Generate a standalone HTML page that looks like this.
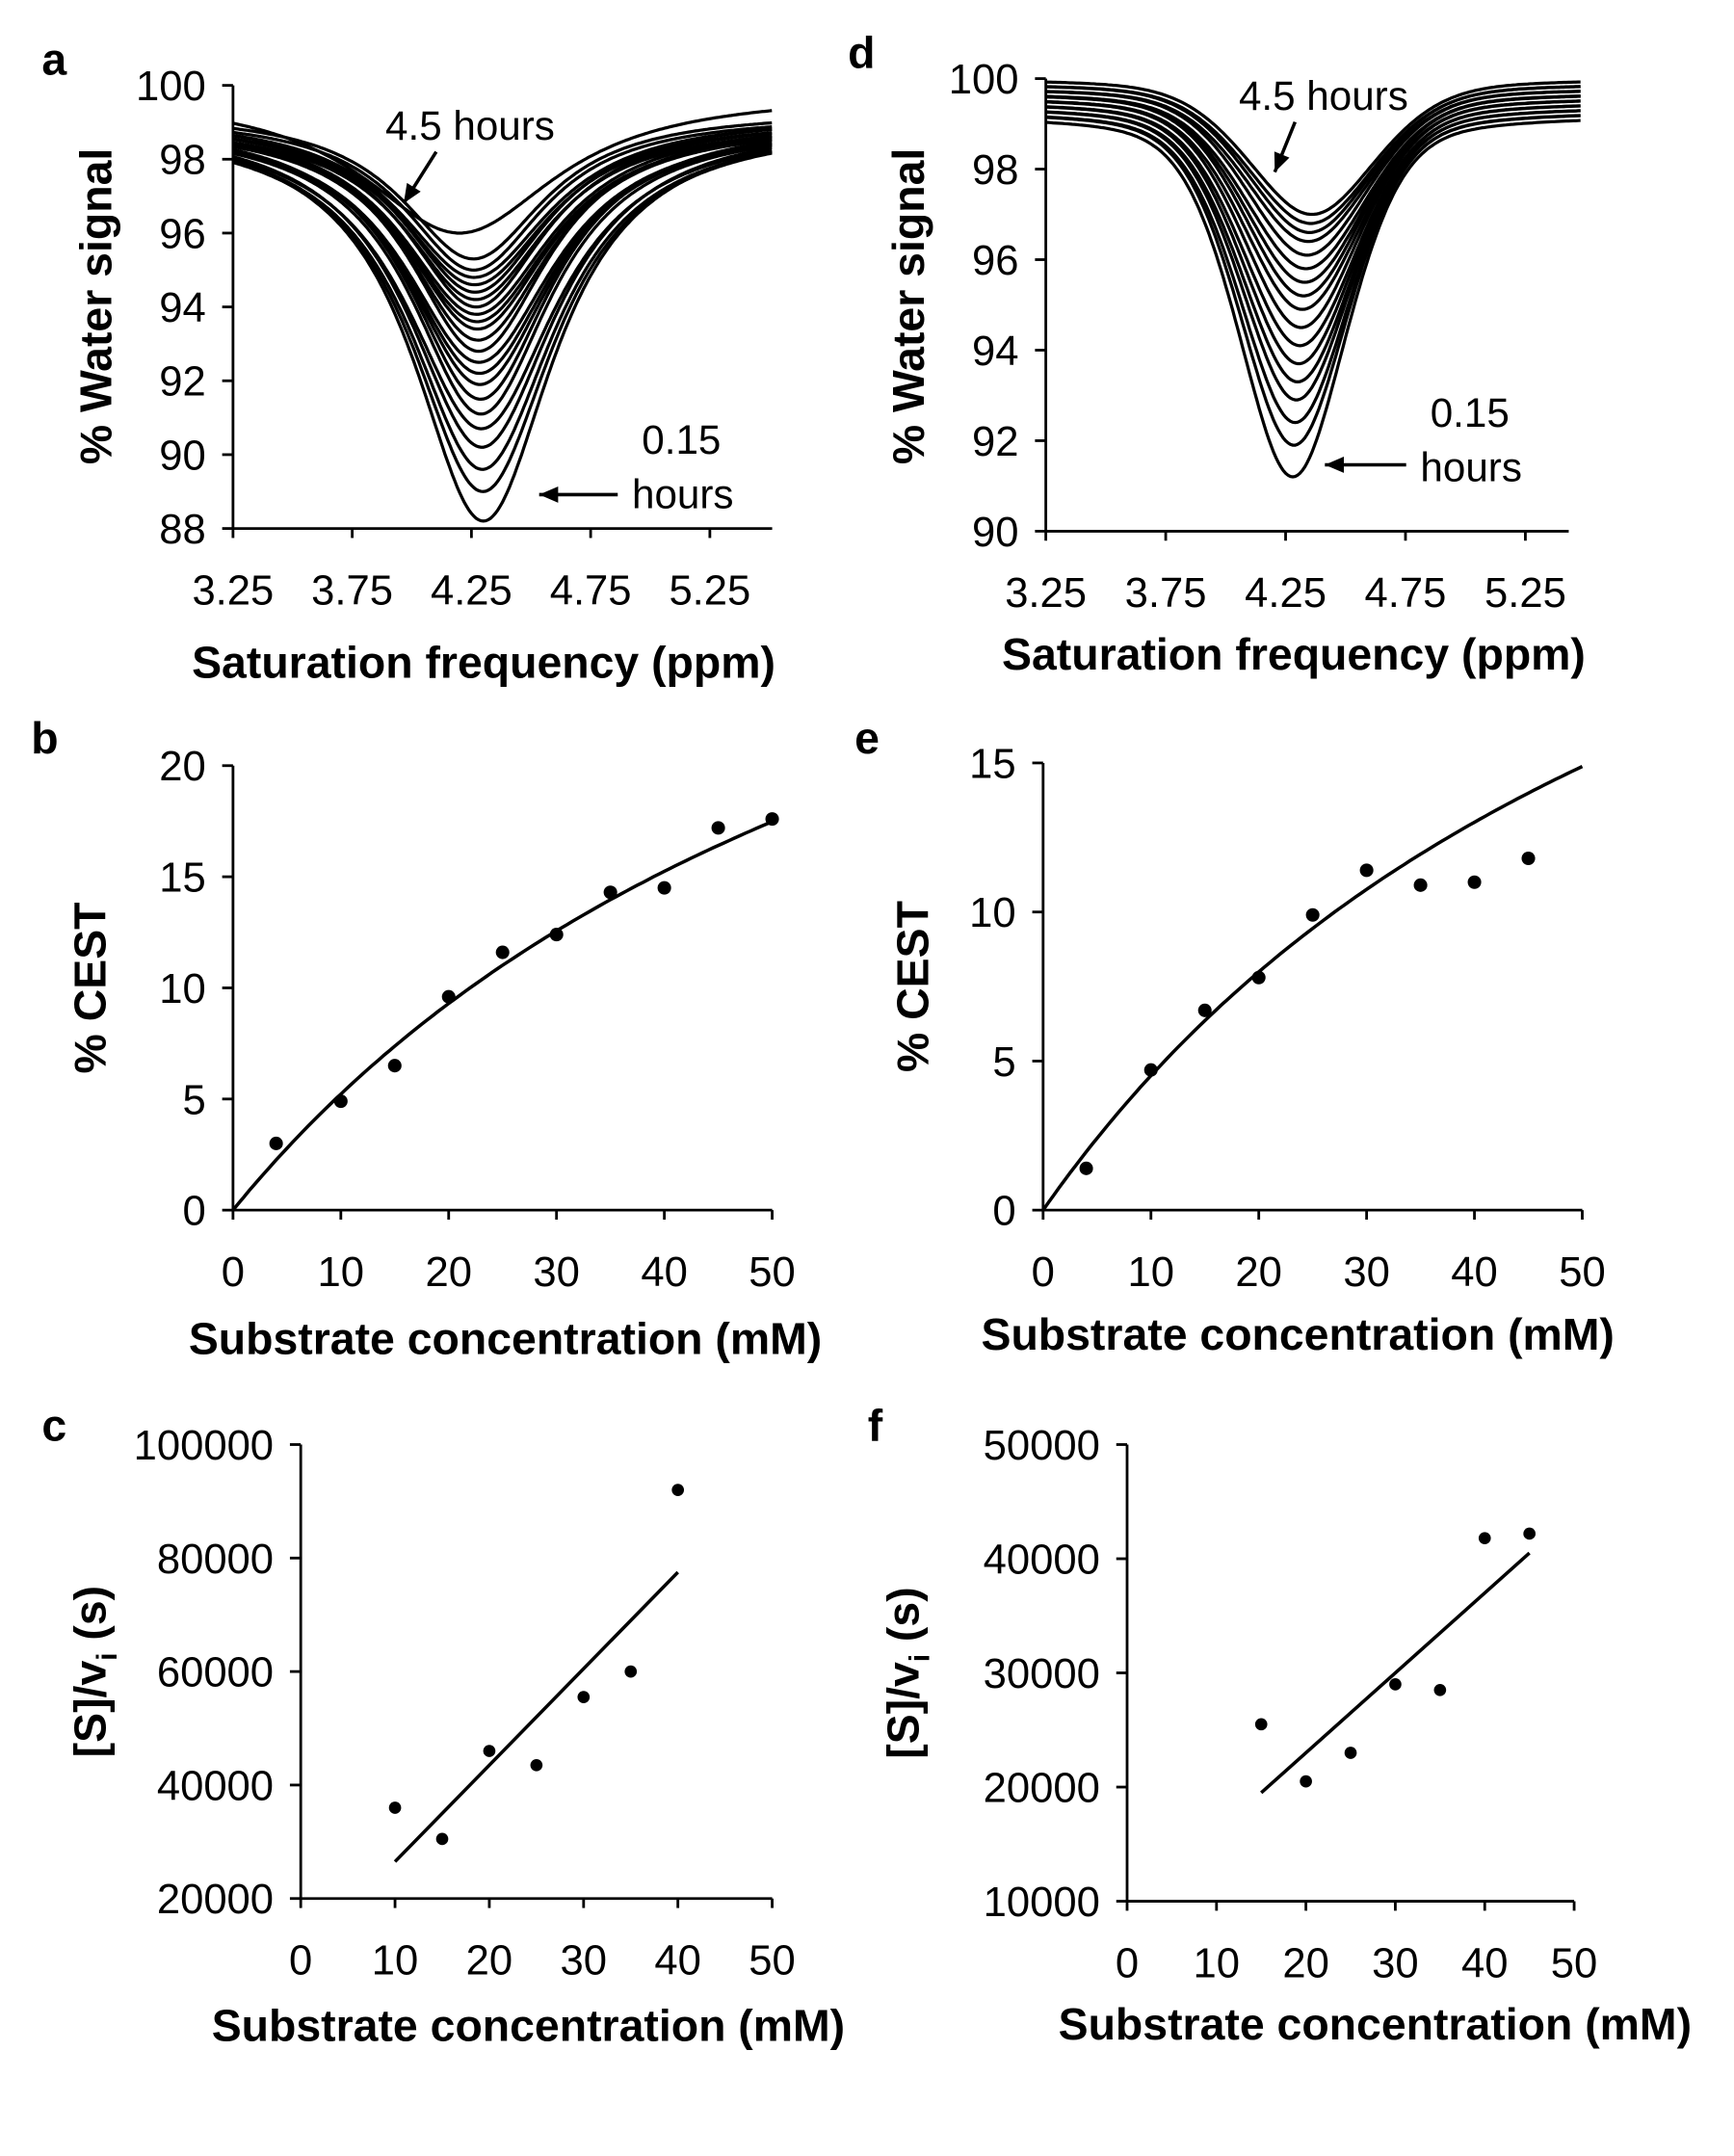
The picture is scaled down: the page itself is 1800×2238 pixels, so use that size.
<!DOCTYPE html>
<html><head><meta charset="utf-8">
<style>
html,body{margin:0;padding:0;background:#fff;}
svg{display:block;font-family:"Liberation Sans",Arial,sans-serif;}
.t{font-size:31px;fill:#000;}
.b{font-size:33px;font-weight:bold;fill:#000;}
.an{font-size:30px;fill:#000;}
</style></head>
<body>
<svg id="fig" width="1800" height="2238" viewBox="0 0 1280 1591" preserveAspectRatio="none" xmlns="http://www.w3.org/2000/svg">
<g id="root"></g>
</svg>
<script>
// ---------- data ----------
const aMinValues = [88.2,89.0,89.6,90.2,90.7,91.1,91.5,91.9,92.2,92.5,92.8,93.1,93.4,93.6,93.8,94.0,94.2,94.4,94.6,94.8,95.0,95.3,96.0];
const aBaseValues = [99.1,99.0,99.0,99.1,99.0,99.0,99.1,99.0,99.0,99.0,99.1,99.0,99.0,99.0,99.1,99.1,99.0,99.2,99.1,99.2,99.2,99.3,99.8];
const dMinValues = [91.2,91.9,92.4,92.9,93.3,93.7,94.1,94.5,94.9,95.2,95.5,95.8,96.1,96.4,96.6,96.8,97.0];
const dBaseValues = [99.2,99.3,99.3,99.4,99.4,99.5,99.5,99.6,99.6,99.7,99.7,99.7,99.8,99.8,99.9,99.9,100.0];
const freqTicks = [3.25,3.75,4.25,4.75,5.25];
const bConc = [4,10,15,20,25,30,35,40,45,50];
const bCest = [3.0,4.9,6.5,9.6,11.6,12.4,14.3,14.5,17.2,17.6];
const bFit = [42.3,71];
const eConc = [4,10,15,20,25,30,35,40,45];
const eCest = [1.4,4.7,6.7,7.8,9.9,11.4,10.9,11.0,11.8];
const eFit = [35.0,67.6];
const cConc = [10,15,20,25,30,35,40];
const cRatio = [36000,30500,46000,43500,55500,60000,92000];
const cLine = [[10,26500],[40,77500]];
const fConc = [15,20,25,30,35,40,45];
const fRatio = [25500,20500,23000,29000,28500,41800,42200];
const fLine = [[15,19500],[45,40500]];

const NS="http://www.w3.org/2000/svg";
const root=document.getElementById('root');
function mk(tag,attrs,parent,text){const e=document.createElementNS(NS,tag);for(const k in attrs)e.setAttribute(k,attrs[k]);if(text!==undefined)e.textContent=text;(parent||root).appendChild(e);return e;}
function scale(d0,d1,r0,r1){return v=>r0+(v-d0)/(d1-d0)*(r1-r0);}

function axes(g,x0,x1,yTop,yBot,xs,ys,xt,yt,xfmt,yfmt){
  const ya=mk('line',{x1:x0,y1:yTop,x2:x0,y2:yBot,stroke:'#000','stroke-width':2},g);
  
  const xa=mk('line',{x1:x0,y1:yBot,x2:x1,y2:yBot,stroke:'#000','stroke-width':2},g);
  
  yt.forEach(v=>{const y=ys(v);mk('line',{x1:x0-8,y1:y,x2:x0,y2:y,stroke:'#000','stroke-width':2},g);
    const t=mk('text',{x:x0-20,y:y+11,'text-anchor':'end',class:'t'},g,yfmt(v));
    });
  xt.forEach(v=>{const x=xs(v);mk('line',{x1:x,y1:yBot,x2:x,y2:yBot+7,stroke:'#000','stroke-width':2},g);
    const t=mk('text',{x:x,y:yBot+56,'text-anchor':'middle',class:'t'},g,xfmt(v));
    });
}
function label(g,txt,x,y,rot,name){const t=mk('text',{x:x,y:y,'text-anchor':'middle',class:'b',transform:rot?`rotate(-90 ${x} ${y})`:''},g,txt);
  return t;}
function arrow(g,x1,y1,x2,y2){mk('line',{x1:x1,y1:y1,x2:x2,y2:y2,stroke:'#000','stroke-width':2.5},g);
  const a=Math.atan2(y2-y1,x2-x1),L=14,W=6;
  const p=[[x2,y2],[x2-L*Math.cos(a)+W*Math.sin(a),y2-L*Math.sin(a)-W*Math.cos(a)],[x2-L*Math.cos(a)-W*Math.sin(a),y2-L*Math.sin(a)+W*Math.cos(a)]];
  mk('polygon',{points:p.map(q=>q.join(',')).join(' '),fill:'#000'},g);}

// ---------- Panel a ----------
(function(){
 const g=mk('g',{});
 const xs=scale(3.25,5.25,172,524), ys=scale(88,100,390,63);
 aMinValues.forEach((m,i)=>{
   const top=i===aMinValues.length-1; const c=top?4.2:4.3-0.002*i, w=top?0.5:0.36+0.006*(i%5), base=aBaseValues[i];
   let d='';for(let x=3.25;x<=5.51;x+=0.01){const L=1/(1+Math.pow((x-c)/w,2));const y=base-(base-m)*L;d+=(d?'L':'M')+xs(x).toFixed(1)+','+ys(y).toFixed(1);}
   const p=mk('path',{d:d,fill:'none',stroke:'#000','stroke-width':2.3},g);
   
 });
 axes(g,172,570,63,390,xs,ys,freqTicks,[88,90,92,94,96,98,100],v=>v.toFixed(2),v=>v);
 label(g,'% Water signal',82,226,true,'y-axis-title');
 label(g,'Saturation frequency (ppm)',357,500,false,'x-axis-title');
 label(g,'a',40,55,false,'panel-label');
 mk('text',{x:347,y:103,'text-anchor':'middle',class:'an'},g,'4.5 hours');
 arrow(g,322,112,298,150);
 mk('text',{x:503,y:335,'text-anchor':'middle',class:'an'},g,'0.15');
 mk('text',{x:504,y:375,'text-anchor':'middle',class:'an'},g,'hours');
 arrow(g,456,365,398,365);
})();

// ---------- Panel d ----------
(function(){
 const g=mk('g',{});
 const xs=scale(3.25,5.25,772,1126), ys=scale(90,100,392,58);
 dMinValues.forEach((m,i)=>{
   const c=4.28+0.005*i, w=0.26+0.003*i, base=dBaseValues[i];
   let d='';for(let x=3.25;x<=5.48;x+=0.01){const L=1/(1+Math.pow((x-c)/w,2));const G=Math.exp(-Math.pow((x-c)/(w*1.25),2));const y=base-(base-m)*(0.35*L+0.65*G);d+=(d?'L':'M')+xs(x).toFixed(1)+','+ys(y).toFixed(1);}
   const p=mk('path',{d:d,fill:'none',stroke:'#000','stroke-width':2.3},g);
   
 });
 axes(g,772,1158,58,392,xs,ys,freqTicks,[90,92,94,96,98,100],v=>v.toFixed(2),v=>v);
 label(g,'% Water signal',682,226,true,'y-axis-title');
 label(g,'Saturation frequency (ppm)',955,494,false,'x-axis-title');
 label(g,'d',636,50,false,'panel-label');
 mk('text',{x:977,y:81,'text-anchor':'middle',class:'an'},g,'4.5 hours');
 arrow(g,956,90,941,127);
 mk('text',{x:1085,y:315,'text-anchor':'middle',class:'an'},g,'0.15');
 mk('text',{x:1086,y:355,'text-anchor':'middle',class:'an'},g,'hours');
 arrow(g,1038,343,978,343);
})();

// ---------- scatter panels ----------
function scatter(name,letter,lx,ly,x0,x1,yTop,yBot,xmax,ymin,ymax,yt,xs_,ys_,fit,line,ytitle,ytx,xtitleX,xtitleY,sub){
 const g=mk('g',{});
 const xs=scale(0,xmax,x0,x1), ys=scale(ymin,ymax,yBot,yTop);
 axes(g,x0,x1,yTop,yBot,xs,ys,[0,10,20,30,40,50],yt,v=>v,v=>v);
 if(fit){let d='';for(let x=0;x<=50.01;x+=0.5){const y=fit[0]*x/(fit[1]+x);d+=(d?'L':'M')+xs(x).toFixed(1)+','+ys(y).toFixed(1);}
   const p=mk('path',{d:d,fill:'none',stroke:'#000','stroke-width':2.5},g);}
 if(line){const l=mk('line',{x1:xs(line[0][0]),y1:ys(line[0][1]),x2:xs(line[1][0]),y2:ys(line[1][1]),stroke:'#000','stroke-width':2.5},g);
   }
 xs_.forEach((v,i)=>{const c=mk('circle',{cx:xs(v),cy:ys(ys_[i]),r:fit?5:4.5,fill:'#000'},g);
   });
 if(sub){const t=mk('text',{x:ytx,y:(yTop+yBot)/2,'text-anchor':'middle',class:'b',transform:`rotate(-90 ${ytx} ${(yTop+yBot)/2})`},g);
   
   mk('tspan',{},t,'[S]/v');mk('tspan',{'font-size':'21','dy':'8'},t,'i');mk('tspan',{'dy':'-8'},t,' (s)');}
 else label(g,ytitle,ytx,(yTop+yBot)/2,true,'y-axis-title');
 label(g,'Substrate concentration (mM)',xtitleX,xtitleY,false,'x-axis-title');
 label(g,letter,lx,ly,false,'panel-label');
}
scatter('panel-b','b',33,556,172,570,565,893,50,0,20,[0,5,10,15,20],bConc,bCest,bFit,null,'% CEST',78,373,999,false);
scatter('panel-e','e',640,556,770,1168,563,893,50,0,15,[0,5,10,15],eConc,eCest,eFit,null,'% CEST',685,958,996,false);
scatter('panel-c','c',40,1063,222,570,1066,1401,50,20000,100000,[20000,40000,60000,80000,100000],cConc,cRatio,null,cLine,'',78,390,1506,true);
scatter('panel-f','f',646,1063,832,1162,1066,1403,50,10000,50000,[10000,20000,30000,40000,50000],fConc,fRatio,null,fLine,'',678,1015,1505,true);
</script>
</body></html>
